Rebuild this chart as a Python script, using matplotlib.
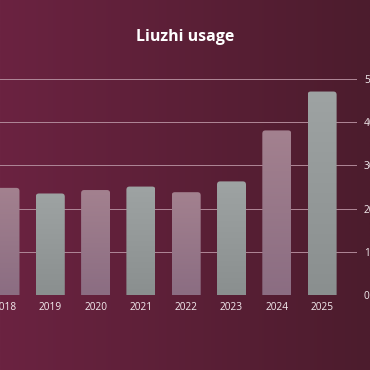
import numpy as np
import matplotlib
matplotlib.use("Agg")
import matplotlib.pyplot as plt
from matplotlib.colors import LinearSegmentedColormap
from matplotlib.patches import FancyBboxPatch

years = ["2018", "2019", "2020", "2021", "2022", "2023", "2024", "2025"]
usage = [24.8, 23.5, 24.3, 25.1, 23.8, 26.3, 38.1, 47.1]
y_ticks = [0, 10, 20, 30, 40, 50]

bg_cmap = LinearSegmentedColormap.from_list("bg", ["#6b2341", "#4c1c2d"])
pink_cmap = LinearSegmentedColormap.from_list("pink", ["#8b6d82", "#a3818f"])
gray_cmap = LinearSegmentedColormap.from_list("gray", ["#8a8f8f", "#9ea3a3"])

fig = plt.figure(figsize=(3.7, 3.7), dpi=100)

# background gradient
bg = fig.add_axes([0, 0, 1, 1], zorder=-10)
bg.imshow(np.linspace(0, 1, 256).reshape(1, -1), cmap=bg_cmap, aspect="auto",
          extent=[0, 1, 0, 1])
bg.axis("off")

ax = fig.add_axes([0, 1 - 295 / 370, 357 / 370, (295 - 79) / 370])
ax.patch.set_alpha(0)

x = np.arange(len(years))
width = 0.64
grad = np.linspace(0, 1, 256).reshape(-1, 1)
for i, (xi, v) in enumerate(zip(x, usage)):
    cmap = pink_cmap if i % 2 == 0 else gray_cmap
    patch = FancyBboxPatch((xi - width / 2, -2), width, v + 2,
                           boxstyle="round,pad=0,rounding_size=0.07",
                           mutation_aspect=10.5, facecolor="none",
                           edgecolor="none", zorder=3)
    ax.add_patch(patch)
    im = ax.imshow(grad, cmap=cmap, origin="lower", aspect="auto",
                   extent=[xi - width / 2, xi + width / 2, 0, v], zorder=3)
    im.set_clip_path(patch)

ax.set_xlim(-0.11, 7.77)
ax.set_ylim(0, 50)
ax.set_xticks(x)
ax.set_xticklabels(years)
ax.set_yticks(y_ticks)
ax.set_yticklabels([str(t) for t in y_ticks])
ax.yaxis.tick_right()
ax.tick_params(length=0, colors="#f4ecef", labelsize=7.3, pad=5)
ax.tick_params(axis="y", pad=5)
for lab in ax.get_xticklabels() + ax.get_yticklabels():
    lab.set_family("Open Sans")

ax.grid(axis="y", color="#b08898", linewidth=0.7, zorder=0)
ax.set_axisbelow(True)
for s in ax.spines.values():
    s.set_visible(False)

fig.text(0.5, 1 - 37 / 370, "Liuzhi usage", ha="center", va="center",
         color="white", fontsize=11.5, fontweight="bold", family="Open Sans")

fig.savefig("out.png", dpi=100)
